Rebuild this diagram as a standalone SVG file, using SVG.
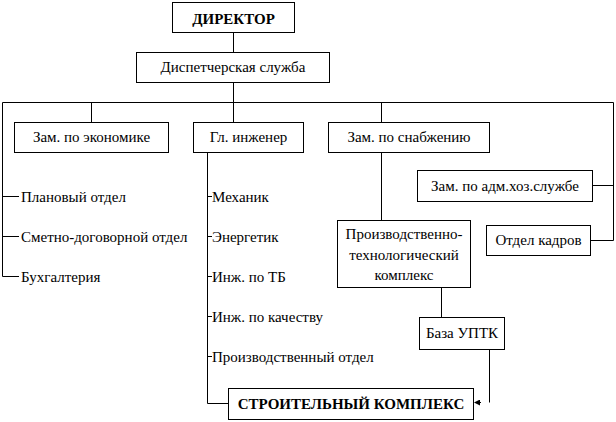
<svg xmlns="http://www.w3.org/2000/svg" width="616" height="422" viewBox="0 0 616 422" font-family="Liberation Serif, DejaVu Serif, serif">
<defs>
<style>
.box{fill:#fff;stroke:#000;stroke-width:1}
.ln{fill:none;stroke:#000;stroke-width:1}
.t{font-family:Liberation Serif, DejaVu Serif, serif;font-size:15px;fill:#000}
.c{text-anchor:middle}
.b{font-weight:bold}
</style>
<marker id="arr" viewBox="0 0 6 6" refX="5" refY="3" markerWidth="6" markerHeight="6" orient="auto" markerUnits="userSpaceOnUse">
<path d="M0,0 L6,3 L0,6 Z" fill="#000"/>
</marker>
</defs>
<rect width="616" height="422" fill="#fff"/>
<g id="connectors">
<path class="ln" d="M233.5,32.5 V52.5"/>
<path class="ln" d="M233.5,82.5 V102.5"/>
<path class="ln" d="M2.5,102.5 H613.5"/>
<path class="ln" d="M91.5,102.5 V122.5"/>
<path class="ln" d="M233.5,102.5 V122.5"/>
<path class="ln" d="M381.5,102.5 V122.5"/>
<path class="ln" d="M2.5,102.5 V276.5 H19"/>
<path class="ln" d="M2.5,196.5 H19"/>
<path class="ln" d="M2.5,236.5 H19"/>
<path class="ln" d="M207.5,152.5 V403.5 H228"/>
<path class="ln" d="M207.5,196.5 H212"/>
<path class="ln" d="M207.5,236.5 H212"/>
<path class="ln" d="M207.5,276.5 H212"/>
<path class="ln" d="M207.5,316.5 H212"/>
<path class="ln" d="M207.5,356.5 H212"/>
<path class="ln" d="M381.5,152.5 V220.5"/>
<path class="ln" d="M441.5,287.5 V317.5"/>
<path class="ln" d="M489.5,349.5 V402.5"/>
<path class="ln" d="M481,402.5 H475" marker-end="url(#arr)"/>
<path class="ln" d="M613.5,102.5 V240.5 H591"/>
<path class="ln" d="M593,185.5 H613.5"/>
</g>
<g id="director">
<rect class="box" x="172.5" y="2.5" width="122" height="30"/>
<text class="t c b" x="233.5" y="24">ДИРЕКТОР</text>
</g>
<g id="dispatch">
<rect class="box" x="136.5" y="52.5" width="193" height="30"/>
<text class="t c" x="233" y="72">Диспетчерская служба</text>
</g>
<g id="zam-econ">
<rect class="box" x="14.5" y="122.5" width="154" height="30"/>
<text class="t c" x="91.5" y="142">Зам. по экономике</text>
</g>
<g id="gl-eng">
<rect class="box" x="193.5" y="122.5" width="110" height="30"/>
<text class="t c" x="248.5" y="142">Гл. инженер</text>
</g>
<g id="zam-snab">
<rect class="box" x="328.5" y="122.5" width="161" height="30"/>
<text class="t c" x="409" y="142">Зам. по снабжению</text>
</g>
<g id="econ-list">
<text class="t" x="21" y="202">Плановый отдел</text>
<text class="t" x="21" y="242">Сметно-договорной отдел</text>
<text class="t" x="21" y="282">Бухгалтерия</text>
</g>
<g id="eng-list">
<text class="t" x="212" y="202">Механик</text>
<text class="t" x="212" y="242">Энергетик</text>
<text class="t" x="212" y="282">Инж. по ТБ</text>
<text class="t" x="212" y="322">Инж. по качеству</text>
<text class="t" x="212" y="362">Производственный отдел</text>
</g>
<g id="zam-adm">
<rect class="box" x="417.5" y="170.5" width="175" height="31"/>
<text class="t c" x="505" y="191">Зам. по адм.хоз.службе</text>
</g>
<g id="kadry">
<rect class="box" x="486.5" y="225.5" width="104" height="30"/>
<text class="t c" x="538.5" y="245">Отдел кадров</text>
</g>
<g id="ptk">
<rect class="box" x="337.5" y="220.5" width="133" height="67"/>
<text class="t c" x="404" y="239">Производственно-</text>
<text class="t c" x="404" y="260">технологический</text>
<text class="t c" x="404" y="280">комплекс</text>
</g>
<g id="baza">
<rect class="box" x="419.5" y="317.5" width="85" height="32"/>
<text class="t c" x="462" y="338">База УПТК</text>
</g>
<g id="stroy">
<rect class="box" x="228.5" y="388.5" width="245" height="31"/>
<text class="t c b" x="351" y="409">СТРОИТЕЛЬНЫЙ КОМПЛЕКС</text>
</g>
</svg>
